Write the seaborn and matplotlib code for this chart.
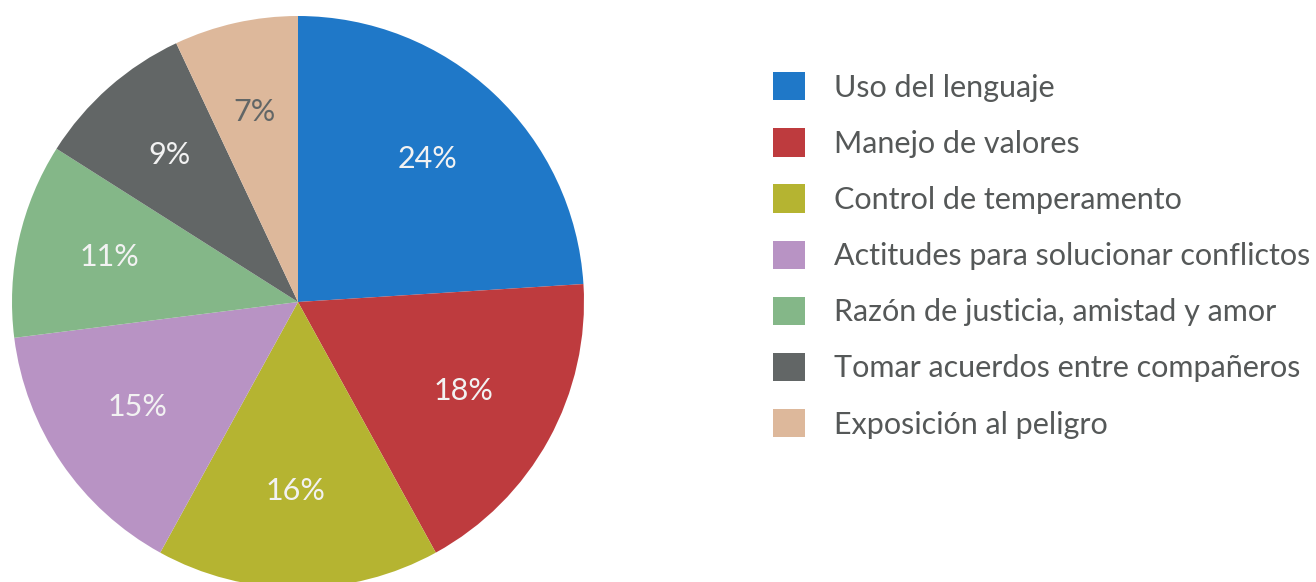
import matplotlib
matplotlib.use("Agg")
import matplotlib.pyplot as plt
import matplotlib.transforms as mtransforms
import seaborn as sns

# data
categories = [
    "Uso del lenguaje",
    "Manejo de valores",
    "Control de temperamento",
    "Actitudes para solucionar conflictos",
    "Razón de justicia, amistad y amor",
    "Tomar acuerdos entre compañeros",
    "Exposición al peligro",
]
values = [24, 18, 16, 15, 11, 9, 7]
colors = ["#1F78C8", "#BE3B3E", "#B5B431", "#B893C4", "#84B788", "#626666", "#DDB89B"]
label_colors = ["#F2F2F2"] * 6 + ["#626666"]

sns.set_theme(style="white")
plt.rcParams["font.family"] = ["Lato", "DejaVu Sans"]

fig = plt.figure(figsize=(13.16, 5.82), dpi=100)
# square axes in pixels: center (298, 302), radius 286
ax = fig.add_axes([12 / 1316, (582 - 588) / 582, 572 / 1316, 572 / 582])

palette = sns.color_palette(colors)
wedges, texts, autotexts = ax.pie(
    values,
    colors=palette,
    startangle=90,
    counterclock=False,
    autopct="%d%%",
    pctdistance=0.67,
    textprops={"fontsize": 22},
    wedgeprops={"linewidth": 0},
)
# small nudge so the labels sit like the original
shift = mtransforms.offset_copy(ax.transData, fig=fig, x=-2, y=3, units="dots")
for t, c in zip(autotexts, label_colors):
    t.set_color(c)
    t.set_transform(shift)
ax.set_xlim(-1, 1)
ax.set_ylim(-1, 1)
ax.set_aspect("auto")
ax.axis("off")

leg = fig.legend(
    wedges,
    categories,
    loc="upper left",
    bbox_to_anchor=(773 / 1316, 1 - 72 / 582),
    frameon=False,
    fontsize=22,
    handlelength=1.05,
    handleheight=1.05,
    handletextpad=0.95,
    labelspacing=0.87,
    borderaxespad=0,
    borderpad=0,
)
for t in leg.get_texts():
    t.set_color("#555858")

fig.savefig("out.png", dpi=100)
